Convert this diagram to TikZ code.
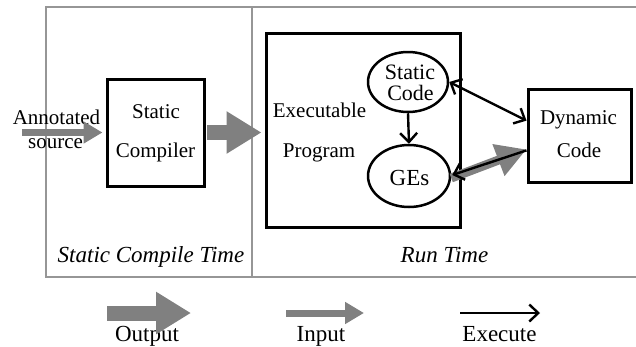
\documentclass[tikz,border=0pt]{standalone}
\usepackage{fontspec}
\setmainfont{Liberation Serif}
\usetikzlibrary{arrows.meta,calc,shapes.geometric}
\definecolor{fatgray}{RGB}{128,128,128}
\definecolor{framegray}{RGB}{150,150,150}
\begin{document}
\begin{tikzpicture}[x=1pt,y=-1pt,
  txt/.style={font=\fontsize{21}{23}\selectfont, inner sep=0pt, anchor=base},
  btxt/.style={font=\fontsize{23}{25}\selectfont, inner sep=0pt, anchor=base},
  etxt/.style={font=\fontsize{22}{24}\selectfont, inner sep=0pt, anchor=base},
  itxt/.style={font=\fontsize{23}{25}\selectfont\itshape, inner sep=0pt, anchor=base},
  blkbox/.style={draw=black, line width=3pt, inner sep=0pt},
  blkell/.style={draw=black, line width=2.5pt, ellipse, inner sep=0pt},
  exe/.style={draw=black, line width=2.4pt, -{Straight Barb[length=9pt,width=17pt,line width=2.4pt]}},
  exeboth/.style={draw=black, line width=2.4pt, {Straight Barb[length=9pt,width=17pt,line width=2.4pt]}-{Straight Barb[length=9pt,width=17pt,line width=2.4pt]}},
  inarrow/.style={draw=fatgray, line width=7pt, -{Triangle[length=19pt,width=21pt]}},
  outarrow/.style={draw=fatgray, line width=15pt, -{Triangle[length=35pt,width=40pt]}},
  midarrow/.style={draw=fatgray, line width=9pt, -{Triangle[length=30pt,width=32pt]}},
  frame/.style={draw=framegray, line width=1.5pt}
]
\useasboundingbox (0,0) rectangle (636,346);

% frame
\draw[frame] (636,7) -- (46,7) -- (46,277) -- (636,277);
\draw[frame] (252,7) -- (252,277);

% boxes
\node[blkbox, minimum width=97pt, minimum height=107pt] (comp) at (155.5,132.5) {};
\node[blkbox, minimum width=194pt, minimum height=194pt] (exec) at (363,130) {};
\node[blkbox, minimum width=103pt, minimum height=93pt] (dyn) at (579.5,135.5) {};
\node[blkell, minimum width=80pt, minimum height=60pt] (sc) at (408,82) {};
\node[blkell, minimum width=82pt, minimum height=62pt] (ges) at (409,176) {};

% texts
\node[txt] (t1) at (56.5,124) {Annotated};
\node[txt] (t2) at (55.5,148) {source};
\node[txt] (t3) at (156,118) {Static};
\node[txt] (t4) at (155.5,157) {Compiler};
\node[txt] (t5) at (319.5,117) {Executable};
\node[txt] (t6) at (319,157) {Program};
\node[etxt] (t7) at (410,79) {Static};
\node[etxt] (t8) at (410.5,100.5) {Code};
\node[btxt] (t9) at (409.5,185) {GEs};
\node[txt] (t10) at (578.5,124) {Dynamic};
\node[txt] (t11) at (579,157) {Code};
\node[itxt] (t12) at (151,262) {Static Compile Time};
\node[itxt] (t13) at (444.5,262) {Run Time};
\node[btxt] (t14) at (147,341) {Output};
\node[btxt] (t15) at (321,341) {Input};
\node[btxt] (t16) at (499.5,341) {Execute};

% connectors
\coordinate (insrc) at (22,132.5);
\draw[inarrow, shorten >=3pt] (insrc) -- (insrc -| comp.west);
\draw[outarrow, shorten >=3pt, shorten <=1.5pt] (comp.east) -- (comp.east -| exec.west);
\draw[exe] (sc.south) -- (ges.north);
\draw[exeboth] (sc.east) -- ($(dyn.north west)!0.345!(dyn.south west)$);
\draw[midarrow] ($(ges.east)+(0,2)$) -- ($(dyn.north west)!0.645!(dyn.south west)$);
\draw[exe] ($(dyn.north west)!0.655!(dyn.south west)$) -- ($(ges.east)+(1,-1)$);

% legend
\coordinate (lo1) at (107,313);
\coordinate (lo2) at (191,313);
\coordinate (li1) at (286,313);
\coordinate (li2) at (364,313);
\coordinate (le1) at (460,313);
\coordinate (le2) at (540,313);
\draw[outarrow] (lo1) -- (lo2);
\draw[inarrow] (li1) -- (li2);
\draw[exe] (le1) -- (le2);
\end{tikzpicture}
\end{document}
